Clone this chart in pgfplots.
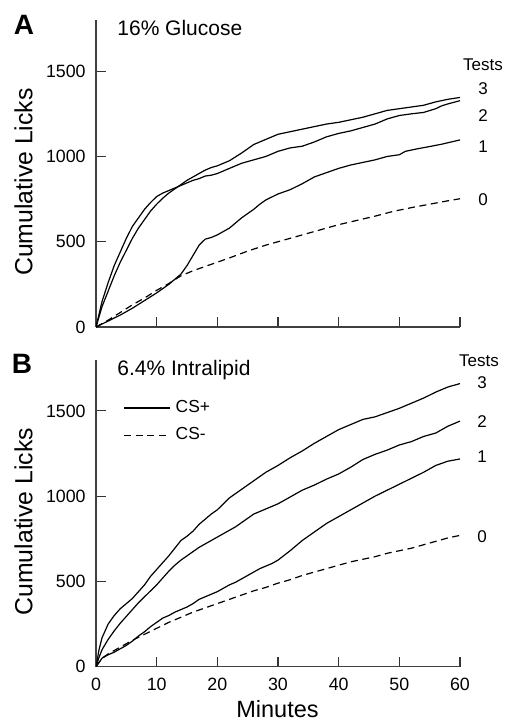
\documentclass[border=0pt]{standalone}
\usepackage{fontspec}
\setmainfont{Liberation Sans}
\usepackage{pgfplots}
\pgfplotsset{compat=1.18}

\newcommand\tickfont{\fontsize{8.9}{10}\selectfont}

\pgfplotsset{
  panel/.style={
    scale only axis, width=182pt, height=153.5pt,
    xmin=0, xmax=60, ymin=0, ymax=1800,
    axis x line*=bottom, axis y line*=left,
    axis line style={black!75, line width=0.7pt},
    xtick={0,10,...,60}, ytick={0,500,1000,1500},
    tick align=inside, major tick length=5pt,
    every tick/.style={black!80, line width=0.6pt},
    /pgf/number format/1000 sep={},
    yticklabel={\tickfont\pgfmathprintnumber[assume math mode=true]{\tick}},
    yticklabel style={anchor=east, inner sep=0pt, xshift=-5pt},
    xticklabel style={anchor=north, inner sep=0pt, yshift=-5.5pt},
  },
  cs/.style={black, line width=0.6pt},
  csm/.style={black, line width=0.6pt, dash pattern=on 3.5pt off 2.3pt},
}

\begin{document}
\begin{tikzpicture}
\path[use as bounding box] (0,0) rectangle (253.5pt,-361pt);

% ---------------- panel A: 16% glucose
\begin{axis}[panel, at={(48pt,-163.5pt)}, anchor=south west, xticklabels={}]
  % test 3
  \addplot[cs] coordinates {
    (0,0) (1,120) (2,210) (3,300) (4,380) (5,450) (6,520) (7,580) (8,630)
    (9,680) (10,720) (11,755) (12,785) (13,810) (14,835) (15,860) (16,880)
    (17,900) (18,920) (19,935) (20,945) (22,975) (24,1020) (26,1070)
    (28,1100) (30,1130) (32,1145) (34,1160) (36,1175) (38,1190) (40,1200)
    (42,1215) (44,1230) (46,1250) (48,1270) (50,1280) (52,1290) (54,1300)
    (56,1320) (58,1335) (60,1346)
  };
  % test 2
  \addplot[cs] coordinates {
    (0,0) (1,150) (2,260) (3,360) (4,440) (5,520) (6,590) (7,640) (8,690)
    (9,730) (10,765) (11,785) (12,800) (13,815) (14,830) (15,845) (16,860)
    (17,870) (18,885) (19,890) (20,900) (22,930) (24,960) (26,980)
    (28,1000) (30,1030) (32,1050) (34,1060) (36,1085) (38,1115) (40,1135)
    (42,1150) (44,1170) (46,1190) (48,1220) (50,1240) (52,1250) (54,1258)
    (56,1280) (57,1297) (58,1308) (60,1327)
  };
  % test 1
  \addplot[cs] coordinates {
    (0,0) (2,35) (4,70) (6,110) (8,155) (10,200) (12,250) (13,280) (14,310)
    (15,360) (16,420) (17,480) (18,515) (19,525) (20,540) (21,560) (22,580)
    (23,610) (24,640) (25,665) (26,690) (27,720) (28,745) (30,780) (32,805)
    (34,840) (36,880) (38,905) (40,930) (42,950) (44,965) (46,980) (48,1000)
    (50,1010) (51,1030) (53,1045) (55,1058) (57,1072) (60,1097)
  };
  % test 0 (CS-)
  \addplot[csm] coordinates {
    (0,0) (2,40) (4,85) (6,130) (8,170) (10,215) (12,255) (14,300) (16,330)
    (18,355) (20,380) (22,405) (25,445) (28,480) (31,510) (34,540) (37,570)
    (40,600) (43,625) (46,650) (49,678) (52,700) (55,720) (58,740) (60,752)
  };
\end{axis}

% ---------------- panel B: 6.4% intralipid
\begin{axis}[panel, at={(48pt,-333.35pt)}, anchor=south west,
  xticklabel={\tickfont\pgfmathprintnumber[assume math mode=true]{\tick}},
  legend style={at={(0.058,0.898)}, anchor=north west, draw=none, fill=none,
    font=\fontsize{8.7}{10}\selectfont, row sep=1pt,
    nodes={inner sep=2.5pt}},
  legend cell align=left,
  legend image code/.code={\draw[#1] (0pt,0pt) -- (23pt,0pt);}]
  \addlegendimage{cs}\addlegendentry{CS+}
  \addlegendimage{csm}\addlegendentry{CS-}
  % test 3
  \addplot[cs, forget plot] coordinates {
    (0,0) (0.5,100) (1,170) (2,250) (3,300) (4,340) (5,370) (6,400) (7,440)
    (8,480) (9,530) (10,570) (11,610) (12,650) (13,695) (14,740) (15,765)
    (16,795) (17,835) (18,865) (19,895) (20,920) (21,955) (22,990) (23,1015)
    (24,1040) (25,1065) (26,1090) (27,1115) (28,1140) (30,1180) (32,1225)
    (34,1265) (36,1310) (38,1350) (40,1390) (42,1420) (44,1450) (46,1465)
    (48,1490) (50,1515) (52,1545) (54,1575) (56,1610) (58,1640) (60,1660)
  };
  % test 2
  \addplot[cs, forget plot] coordinates {
    (0,0) (0.5,55) (1,100) (2,160) (3,210) (4,255) (5,295) (6,335) (7,375)
    (8,410) (9,445) (10,480) (11,520) (12,560) (13,595) (14,625) (15,650)
    (16,675) (17,700) (18,720) (19,740) (20,760) (21,780) (22,800) (23,820)
    (24,845) (25,870) (26,895) (27,910) (28,925) (30,955) (32,995)
    (34,1035) (36,1065) (38,1100) (40,1130) (42,1170) (44,1215) (46,1245)
    (48,1270) (50,1300) (52,1320) (54,1350) (56,1370) (58,1410) (60,1440)
  };
  % test 1
  \addplot[cs, forget plot] coordinates {
    (0,0) (1,50) (2,70) (3,85) (4,105) (5,125) (6,150) (7,180) (8,205)
    (9,235) (10,260) (11,285) (12,300) (13,320) (14,335) (15,350) (16,370)
    (17,395) (18,410) (19,425) (20,440) (21,460) (22,480) (23,495) (24,515)
    (25,535) (26,555) (27,575) (28,590) (29,605) (30,625) (32,680) (34,740)
    (36,790) (38,840) (40,880) (42,920) (44,960) (46,1000) (48,1035)
    (50,1070) (52,1105) (54,1140) (56,1180) (58,1205) (60,1218)
  };
  % test 0 (CS-)
  \addplot[csm, forget plot] coordinates {
    (0,0) (1,50) (2,75) (3,95) (4,115) (5,135) (6,155) (8,190) (10,225)
    (12,260) (14,290) (16,320) (18,345) (20,370) (22,395) (24,420) (26,445)
    (28,465) (30,490) (32,510) (34,535) (36,555) (38,575) (40,595) (42,615)
    (44,630) (46,645) (48,665) (50,680) (52,695) (54,715) (56,735) (58,755)
    (60,770)
  };
\end{axis}

% ---------------- text, in pixel units of the reference
\begin{scope}[x=0.5pt, y=-0.5pt]
  \node[font=\bfseries\fontsize{14}{16}\selectfont] at (24,25) {A};
  \node[font=\bfseries\fontsize{14}{16}\selectfont] at (22,364) {B};
  \node[anchor=base west, inner sep=0pt, font=\fontsize{10.5}{12}\selectfont] at (117,35.5) {16\% Glucose};
  \node[anchor=base west, inner sep=0pt, font=\fontsize{10.5}{12}\selectfont] at (117,375.5) {6.4\% Intralipid};
  \node[rotate=90, font=\fontsize{12.4}{14}\selectfont] at (23.5,182) {Cumulative Licks};
  \node[rotate=90, font=\fontsize{12.4}{14}\selectfont] at (23.5,521.7) {Cumulative Licks};
  \node[font=\fontsize{11.75}{14}\selectfont] at (277.5,709.5) {Minutes};
  \begin{scope}[every node/.style={font=\fontsize{8.5}{10}\selectfont, inner sep=0pt}]
    \node at (483,65) {Tests};
    \node at (483,89) {3};
    \node at (483,116) {2};
    \node at (483,147) {1};
    \node at (483,200) {0};
    \node at (479,361) {Tests};
    \node at (482,383) {3};
    \node at (482,422) {2};
    \node at (482,457) {1};
    \node at (482,537) {0};
  \end{scope}
\end{scope}
\end{tikzpicture}
\end{document}
